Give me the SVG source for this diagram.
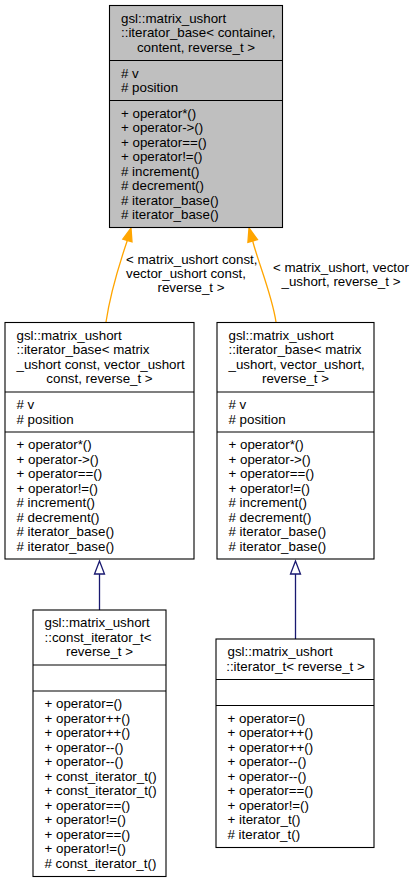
<svg xmlns="http://www.w3.org/2000/svg" width="414" height="883" viewBox="0 0 414 883">
<style>
text{font-family:"Liberation Sans",Arial,sans-serif;font-size:13.33px;fill:#000}
.c{text-anchor:middle}
.box{fill:#fff;stroke:#000;stroke-width:1.1}
.gray{fill:#bfbfbf}
.sep{stroke:#000;stroke-width:1.1}
.inh{fill:none;stroke:#191970;stroke-width:1.3}
.tmpl{fill:none;stroke:#ffa500;stroke-width:1.3}
</style>
<rect width="414" height="883" fill="#fff"/>
<g id="connectors">
<path class="tmpl" d="M106,322 C110,295 120,262 127.3,240.5"/>
<polygon points="131,228 132,241.8 122.8,239.2" fill="#ffa500" stroke="#ffa500" stroke-width="1.3"/>
<path class="tmpl" d="M276,322 C272,295 258,262 252.7,241"/>
<polygon points="249,228 257.5,239.6 247.9,242.4" fill="#ffa500" stroke="#ffa500" stroke-width="1.3"/>
<text x="126" y="263.5">&lt; matrix_ushort const,</text>
<text x="126" y="277.5">vector_ushort const,</text>
<text class="c" x="191" y="291.5">reverse_t &gt;</text>
<text x="273" y="271.5">&lt; matrix_ushort, vector</text>
<text class="c" x="341" y="285.5">_ushort, reverse_t &gt;</text>
<path class="inh" d="M99.5,610 V574"/>
<polygon points="99.5,561 94.5,574 104.5,574" fill="#fff" stroke="#191970" stroke-width="1.3"/>
<path class="inh" d="M295.5,639 V574"/>
<polygon points="295.5,561 290.5,574 300.5,574" fill="#fff" stroke="#191970" stroke-width="1.3"/>
</g>
<g id="node_base">
<rect class="box gray" x="109.5" y="5.5" width="173" height="222"/>
<line class="sep" x1="109.5" y1="60.5" x2="282.5" y2="60.5"/>
<line class="sep" x1="109.5" y1="100.5" x2="282.5" y2="100.5"/>
<text x="121" y="22.5">gsl::matrix_ushort</text>
<text x="121" y="37">::iterator_base&lt; container,</text>
<text class="c" x="196" y="51.5">content, reverse_t &gt;</text>
<text x="121" y="77.5"># v</text>
<text x="121" y="92"># position</text>
<text x="121" y="117.5">+ operator*()</text>
<text x="121" y="132">+ operator-&gt;()</text>
<text x="121" y="146.5">+ operator==()</text>
<text x="121" y="161">+ operator!=()</text>
<text x="121" y="175.5"># increment()</text>
<text x="121" y="190"># decrement()</text>
<text x="121" y="204.5"># iterator_base()</text>
<text x="121" y="219"># iterator_base()</text>
</g>
<g id="node_base_const">
<rect class="box" x="5" y="322.5" width="189" height="236.5"/>
<line class="sep" x1="5" y1="392" x2="194" y2="392"/>
<line class="sep" x1="5" y1="432" x2="194" y2="432"/>
<text x="16.5" y="339.5">gsl::matrix_ushort</text>
<text x="16.5" y="354">::iterator_base&lt; matrix</text>
<text x="16.5" y="368.5">_ushort const, vector_ushort</text>
<text class="c" x="99.5" y="383">const, reverse_t &gt;</text>
<text x="16.5" y="409"># v</text>
<text x="16.5" y="423.5"># position</text>
<text x="16.5" y="449">+ operator*()</text>
<text x="16.5" y="463.5">+ operator-&gt;()</text>
<text x="16.5" y="478">+ operator==()</text>
<text x="16.5" y="492.5">+ operator!=()</text>
<text x="16.5" y="507"># increment()</text>
<text x="16.5" y="521.5"># decrement()</text>
<text x="16.5" y="536"># iterator_base()</text>
<text x="16.5" y="550.5"># iterator_base()</text>
</g>
<g id="node_base_mut">
<rect class="box" x="217" y="322.5" width="157" height="236.5"/>
<line class="sep" x1="217" y1="392" x2="374" y2="392"/>
<line class="sep" x1="217" y1="432" x2="374" y2="432"/>
<text x="228.5" y="339.5">gsl::matrix_ushort</text>
<text x="228.5" y="354">::iterator_base&lt; matrix</text>
<text x="228.5" y="368.5">_ushort, vector_ushort,</text>
<text class="c" x="295.5" y="383">reverse_t &gt;</text>
<text x="228.5" y="409"># v</text>
<text x="228.5" y="423.5"># position</text>
<text x="228.5" y="449">+ operator*()</text>
<text x="228.5" y="463.5">+ operator-&gt;()</text>
<text x="228.5" y="478">+ operator==()</text>
<text x="228.5" y="492.5">+ operator!=()</text>
<text x="228.5" y="507"># increment()</text>
<text x="228.5" y="521.5"># decrement()</text>
<text x="228.5" y="536"># iterator_base()</text>
<text x="228.5" y="550.5"># iterator_base()</text>
</g>
<g id="node_const_iterator">
<rect class="box" x="33" y="610" width="133" height="266.5"/>
<line class="sep" x1="33" y1="665" x2="166" y2="665"/>
<line class="sep" x1="33" y1="691" x2="166" y2="691"/>
<text x="44.5" y="627">gsl::matrix_ushort</text>
<text x="44.5" y="641.5">::const_iterator_t&lt;</text>
<text class="c" x="99.5" y="656">reverse_t &gt;</text>
<text x="44.5" y="708">+ operator=()</text>
<text x="44.5" y="722.5">+ operator++()</text>
<text x="44.5" y="737">+ operator++()</text>
<text x="44.5" y="751.5">+ operator--()</text>
<text x="44.5" y="766">+ operator--()</text>
<text x="44.5" y="780.5">+ const_iterator_t()</text>
<text x="44.5" y="795">+ const_iterator_t()</text>
<text x="44.5" y="809.5">+ operator==()</text>
<text x="44.5" y="824">+ operator!=()</text>
<text x="44.5" y="838.5">+ operator==()</text>
<text x="44.5" y="853">+ operator!=()</text>
<text x="44.5" y="867.5"># const_iterator_t()</text>
</g>
<g id="node_iterator">
<rect class="box" x="216" y="639" width="158" height="208.5"/>
<line class="sep" x1="216" y1="679.5" x2="374" y2="679.5"/>
<line class="sep" x1="216" y1="705.5" x2="374" y2="705.5"/>
<text x="227.5" y="656">gsl::matrix_ushort</text>
<text class="c" x="295.5" y="670.5">::iterator_t&lt; reverse_t &gt;</text>
<text x="227.5" y="722.5">+ operator=()</text>
<text x="227.5" y="737">+ operator++()</text>
<text x="227.5" y="751.5">+ operator++()</text>
<text x="227.5" y="766">+ operator--()</text>
<text x="227.5" y="780.5">+ operator--()</text>
<text x="227.5" y="795">+ operator==()</text>
<text x="227.5" y="809.5">+ operator!=()</text>
<text x="227.5" y="824">+ iterator_t()</text>
<text x="227.5" y="838.5"># iterator_t()</text>
</g>
</svg>
